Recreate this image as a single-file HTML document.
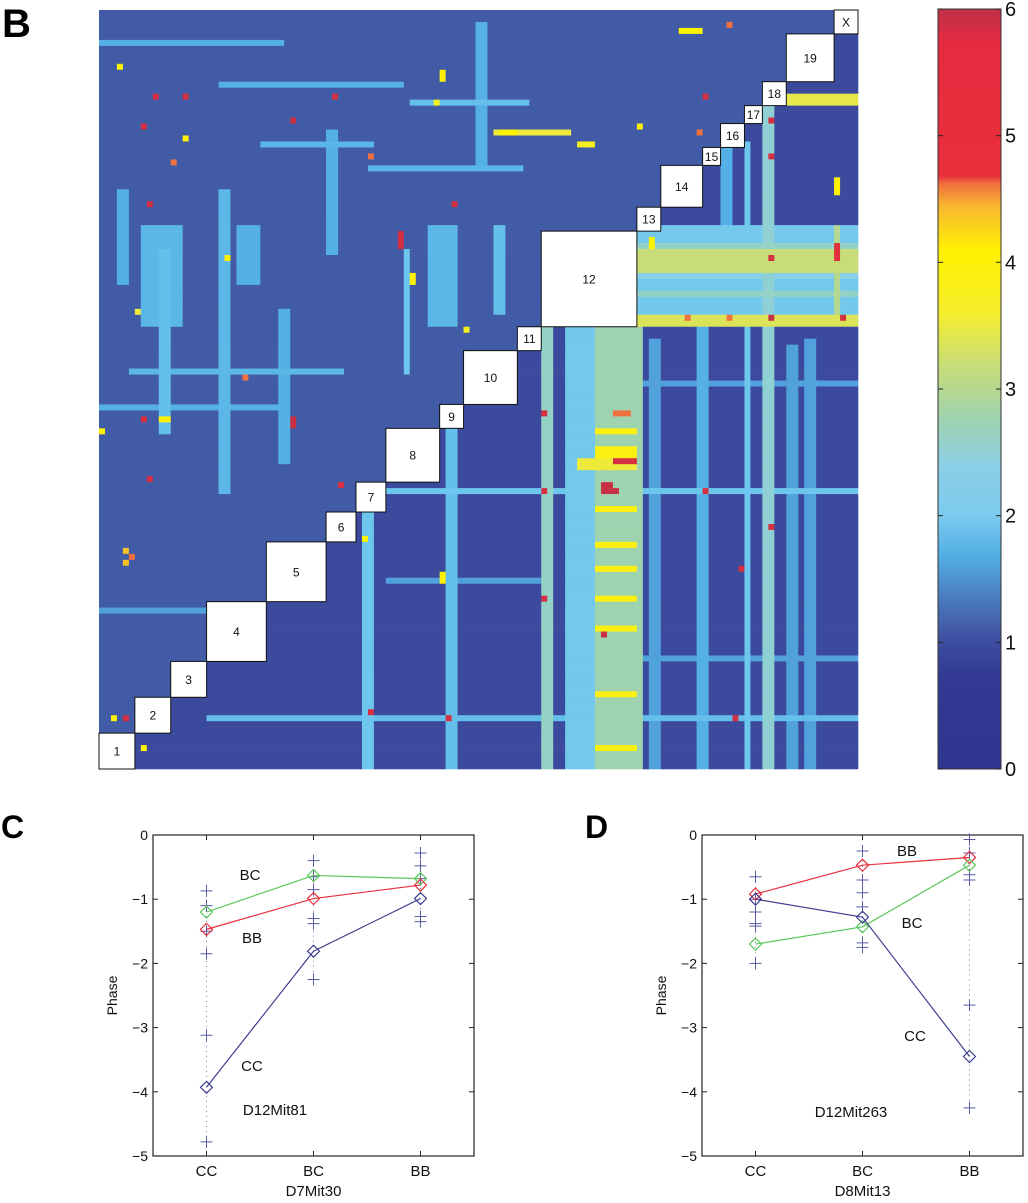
<!DOCTYPE html>
<html><head><meta charset="utf-8"><style>
html,body{margin:0;padding:0;background:#fff;}
svg{display:block;font-family:"Liberation Sans",sans-serif;}
</style></head><body>
<svg id="root" width="1028" height="1203" viewBox="0 0 1028 1203" xmlns="http://www.w3.org/2000/svg">
<defs>
<linearGradient id="cbgrad" x1="0" y1="1" x2="0" y2="0">
<stop offset="0" stop-color="#2e3590"/><stop offset="0.12" stop-color="#323a94"/>
<stop offset="0.1667" stop-color="#3c4c9e"/><stop offset="0.22" stop-color="#4a78bc"/>
<stop offset="0.28" stop-color="#52aee4"/><stop offset="0.3333" stop-color="#7ccbef"/>
<stop offset="0.40" stop-color="#8ccfe6"/><stop offset="0.46" stop-color="#9fd2b0"/>
<stop offset="0.53" stop-color="#c6dc78"/><stop offset="0.60" stop-color="#f6ee2e"/>
<stop offset="0.68" stop-color="#fff200"/><stop offset="0.74" stop-color="#f8b830"/>
<stop offset="0.77" stop-color="#f07040"/><stop offset="0.78" stop-color="#e8303c"/>
<stop offset="0.95" stop-color="#e82a40"/><stop offset="1" stop-color="#c03048"/>
</linearGradient>
</defs>
<text x="2" y="37" font-size="40" font-weight="bold">B</text>
<text x="1" y="838" font-size="32" font-weight="bold">C</text>
<text x="585" y="838" font-size="32" font-weight="bold">D</text>
<g id="heatmap"></g>
<g id="boxes"></g>
<g id="colorbar"></g>
<g id="chartC"></g>
<g id="chartD"></g>
</svg>
<script>
// ---------- heatmap data (cell indices: 127 x 127 grid) ----------
const nCells = 127;
const baseUpper = 1.08;
const baseLower = 0.92;
// column bands: [col0, col1, row0, row1, value]
const colBands = [
  [78,90,53,126,2.1],[83,90,53,126,2.75],[74,75,53,126,2.6],[108,108,22,126,2.0],
  [111,112,12,126,2.5],[44,45,84,126,2.0],[58,59,70,126,1.9],[51,51,40,60,2.0],
  [123,123,36,52,3.0],[20,21,30,80,1.8],[10,11,40,70,1.9],[100,101,36,126,1.7],
  [7,13,36,52,1.8],[55,59,36,52,1.8],[66,67,36,50,1.9],[23,26,36,45,1.7],
  [3,4,30,45,1.7],[30,31,50,75,1.7],[38,39,20,40,1.7],[63,64,2,25,1.7],
  [92,93,55,126,1.6],[118,119,55,126,1.6],[104,105,20,35,1.7],[115,116,56,126,1.6]
];
// row bands: [row0, row1, col0, col1, value]
const rowBands = [
  [36,52,90,126,2.1],[40,43,90,126,3.2],[39,39,90,126,2.6],[51,52,90,126,3.4],
  [80,80,48,126,2.0],[118,118,18,126,1.9],[14,15,113,126,3.5],[20,20,66,78,3.6],
  [70,70,83,89,3.9],[73,74,83,89,3.9],[83,83,83,89,3.9],[89,89,83,89,3.9],
  [93,93,83,89,3.9],[98,98,83,89,3.9],[103,103,83,89,3.9],[114,114,83,89,3.9],
  [123,123,83,89,3.9],[75,76,80,89,3.6],[26,26,45,70,1.8],[60,60,5,40,1.8],
  [44,44,90,126,2.4],[47,47,90,126,2.6],[15,15,52,71,1.9],[22,22,27,45,1.8],
  [5,5,0,30,1.7],[12,12,20,50,1.7],[66,66,0,30,1.7],[100,100,0,20,1.6],
  [95,95,48,74,1.6],[108,108,90,126,1.6],[62,62,90,126,1.6]
];
// hot spots: [row, col, value]
const hotSpots = [
  [14,9,5.5],[14,14,5.5],[19,7,5.5],[18,32,6],[14,39,5.5],[32,8,5.5],[32,59,5.5],
  [37,50,5.5],[38,50,5.5],[39,50,5.5],[9,3,4],[10,57,4],[11,57,4],[21,14,4],[20,67,4],
  [20,68,4],[20,69,4],[41,21,4],[44,52,4],[45,52,4],[25,12,4.6],[24,45,4.6],[61,24,4.6],
  [15,56,3.8],[50,6,3.6],[53,61,3.8],[68,7,5.5],[68,32,6],[69,32,6],[78,8,5.5],[79,40,5.5],
  [90,4,4.3],[91,5,4.6],[92,4,4.3],[117,45,5.5],[118,58,5.5],[118,4,5.5],[118,2,4],
  [70,0,4],[68,10,4],[68,11,4],[88,44,4],[94,57,4],[95,57,4],[123,7,4],
  [14,101,5.5],[18,112,5.5],[24,112,5.5],[41,112,5.5],[39,123,5],[40,123,5],[41,123,5],
  [51,112,6],[51,124,5.5],[51,98,4.6],[51,105,4.6],[3,97,4],[3,98,4],[3,99,4],[3,100,4],
  [38,92,4],[39,92,4],[28,123,4],[29,123,4],[30,123,4],[22,80,3.8],[22,81,3.8],[22,82,3.8],
  [2,105,4.6],[20,100,4.6],[19,90,4],[67,74,5.5],[67,86,4.6],[67,87,4.6],[67,88,4.6],
  [75,86,5.5],[75,87,5.5],[75,88,5.5],[75,89,5.5],[80,84,6],[80,85,6],[80,86,6],[79,84,6],[79,85,6],
  [80,74,5.5],[80,101,5.5],[86,112,5.5],[93,107,5.5],[98,74,5.5],[104,84,6],[118,106,5.5]
];
// chromosome boxes: [label, col0, col1] (square on diagonal)
const chromLabels = ["1","2","3","4","5","6","7","8","9","10","11","12","13","14","15","16","17","18","19","X"];
const chromStarts = [0,6,12,18,28,38,43,48,57,61,70,74,90,94,101,104,108,111,115,123];
const chromEnds   = [6,12,18,28,38,43,48,57,61,70,74,90,94,101,104,108,111,115,123,127];

const HX0=99, HY0=10, HW=759, HH=759;
function cx(c){return HX0 + c*HW/nCells;}
function cy(r){return HY0 + r*HH/nCells;}

const cmapV=[0,0.7,1.0,1.3,1.7,2.0,2.4,2.8,3.2,3.6,4.0,4.4,4.6,4.8,6];
const cmapC=["#2e3590","#323a94","#3e50a0","#4878bc","#54b0e6","#6cc6ee","#88cfe4","#a2d4a8","#c8dc78","#eeea3a","#fff200","#f6b030","#f07040","#e8303c","#c83044"];
function hex2rgb(h){return [parseInt(h.slice(1,3),16),parseInt(h.slice(3,5),16),parseInt(h.slice(5,7),16)];}
function cmap(v){
  if(v<=cmapV[0]) return cmapC[0];
  for(let i=1;i<cmapV.length;i++){
    if(v<=cmapV[i]){const t=(v-cmapV[i-1])/(cmapV[i]-cmapV[i-1]);const a=hex2rgb(cmapC[i-1]),b=hex2rgb(cmapC[i]);
      return "rgb("+a.map((x,k)=>Math.round(x+(b[k]-x)*t)).join(",")+")";}
  }
  return cmapC[cmapC.length-1];
}
const NS="http://www.w3.org/2000/svg";
function mk(tag,attrs,parent){const e=document.createElementNS(NS,tag);for(const k in attrs)e.setAttribute(k,attrs[k]);parent.appendChild(e);return e;}

(function drawHeatmap(){
  const g=document.getElementById('heatmap');
  const M=[];
  for(let r=0;r<nCells;r++){M.push([]);for(let c=0;c<nCells;c++)M[r].push(r+c<nCells-1?baseUpper:baseLower);}
  colBands.forEach(b=>{for(let c=b[0];c<=b[1];c++)for(let r=b[2];r<=b[3];r++)M[r][c]=Math.max(M[r][c],b[4]);});
  rowBands.forEach(b=>{for(let r=b[0];r<=b[1];r++)for(let c=b[2];c<=b[3];c++)M[r][c]=Math.max(M[r][c],b[4]);});
  hotSpots.forEach(h=>{M[h[0]][h[1]]=Math.max(M[h[0]][h[1]],h[2]);});
  for(let r=0;r<nCells;r++){
    let c=0;
    while(c<nCells){
      let e=c;while(e+1<nCells&&M[r][e+1]===M[r][c])e++;
      const rect=mk('rect',{x:cx(c).toFixed(2),y:cy(r).toFixed(2),width:(cx(e+1)-cx(c)+0.3).toFixed(2),height:(HH/nCells+0.3).toFixed(2),fill:cmap(M[r][c])},g);
      
      
      c=e+1;
    }
  }
  const bg=document.getElementById('boxes');
  chromLabels.forEach((lab,i)=>{
    const c0=chromStarts[i],c1=chromEnds[i];
    const x=cx(c0),w=cx(c1)-cx(c0),y=cy(nCells-c1),h=cy(nCells-c0)-y;
    const rr=mk('rect',{x:x,y:y,width:w,height:h,fill:"#fff",stroke:"#111","stroke-width":1},bg);
    
    
    const t=mk('text',{x:x+w/2,y:y+h/2+4.5,"text-anchor":"middle","font-size":12,fill:"#111"},bg);
    t.textContent=lab;
    
    
  });
})();

// ---------- colorbar ----------
const cbTicks=[0,1,2,3,4,5,6];
(function(){
  const g=document.getElementById('colorbar');
  const X0=938,X1=1001,Y0=9,Y1=769;
  const r=mk('rect',{x:X0,y:Y0,width:X1-X0,height:Y1-Y0,fill:"url(#cbgrad)",stroke:"#333","stroke-width":1},g);
  
  
  cbTicks.forEach(v=>{
    const y=Y1-(v/6)*(Y1-Y0);
    mk('line',{x1:X0,x2:X0+5,y1:y,y2:y,stroke:"#222"},g);
    mk('line',{x1:X1-5,x2:X1,y1:y,y2:y,stroke:"#222"},g);
    const t=mk('text',{x:X1+4,y:y+7,"font-size":20,fill:"#111"},g);
    t.textContent=String(v);
    
    
  });
})();

// ---------- line charts ----------
const categories=["CC","BC","BB"];
const yTicks=[0,-1,-2,-3,-4,-5];
// Chart C
const cGreen=[-1.2,-0.63,-0.68];
const cRed=[-1.47,-0.99,-0.78];
const cBlue=[-3.93,-1.81,-0.99];
const cPlusCC=[-0.87,-1.1,-1.5,-1.85,-3.12,-4.78];
const cPlusBC=[-0.4,-0.65,-0.85,-1.3,-1.38,-2.25];
const cPlusBB=[-0.28,-0.48,-0.68,-1.27,-1.35];
// Chart D
const dGreen=[-1.7,-1.43,-0.47];
const dRed=[-0.92,-0.47,-0.35];
const dBlue=[-1.0,-1.28,-3.45];
const dPlusCC=[-0.65,-1.0,-1.2,-1.38,-1.42,-2.0];
const dPlusBC=[-0.25,-0.7,-0.9,-1.12,-1.68,-1.75];
const dPlusBB=[-0.07,-0.28,-0.62,-0.7,-2.65,-4.25];

function drawChart(gid,X0,opts){
  const g=document.getElementById(gid);
  const W=321,Y0=835,H=321;
  const xs=i=>X0+W*(2*i+1)/6;
  const ys=v=>Y0+(-v/5)*H;
  const fr=mk('rect',{x:X0,y:Y0,width:W,height:H,fill:"none",stroke:"#222","stroke-width":1.2},g);
  
  
  yTicks.forEach(v=>{
    const y=ys(v);
    mk('line',{x1:X0,x2:X0+5,y1:y,y2:y,stroke:"#222"},g);
    mk('line',{x1:X0+W-5,x2:X0+W,y1:y,y2:y,stroke:"#222"},g);
    const t=mk('text',{x:X0-5,y:y+5,"text-anchor":"end","font-size":14,fill:"#111"},g);
    t.textContent=v===0?"0":"\u2212"+(-v);
    
    
  });
  categories.forEach((c,i)=>{
    const x=xs(i);
    mk('line',{x1:x,x2:x,y1:Y0+H,y2:Y0+H-5,stroke:"#222"},g);
    mk('line',{x1:x,x2:x,y1:Y0,y2:Y0+5,stroke:"#222"},g);
    const t=mk('text',{x:x,y:Y0+H+20,"text-anchor":"middle","font-size":15,fill:"#111"},g);
    t.textContent=c;
    
    
  });
  const yl=mk('text',{x:0,y:0,transform:"translate("+(X0-36)+","+(Y0+H/2)+") rotate(-90)","text-anchor":"middle","font-size":14,fill:"#111"},g);
  yl.textContent="Phase";
  
  
  const xl=mk('text',{x:X0+W/2,y:Y0+H+40,"text-anchor":"middle","font-size":15,fill:"#111"},g);
  xl.textContent=opts.xlabel;
  
  
  opts.pluses.forEach((arr,i)=>{
    const x=xs(i);
    const mn=Math.min(...arr),mx=Math.max(...arr);
    const dl=mk('line',{x1:x,x2:x,y1:ys(mx),y2:ys(mn),stroke:"#7a7aa8","stroke-dasharray":"1,4","stroke-width":1},g);
    
    
    arr.forEach(v=>{
      const y=ys(v);
      const p=mk('path',{d:"M"+(x-6)+","+y+"H"+(x+6)+"M"+x+","+(y-6)+"V"+(y+6),stroke:"#5a5aa8","stroke-width":1,fill:"none"},g);
      
      
    });
  });
  opts.series.forEach(s=>{
    const pts=s.vals.map((v,i)=>xs(i)+","+ys(v)).join(" ");
    const pl=mk('polyline',{points:pts,fill:"none",stroke:s.color,"stroke-width":1.2},g);
    
    
    s.vals.forEach((v,i)=>{
      const x=xs(i),y=ys(v);
      const d=mk('path',{d:"M"+x+","+(y-6)+"L"+(x+6)+","+y+"L"+x+","+(y+6)+"L"+(x-6)+","+y+"Z",fill:"none",stroke:s.color,"stroke-width":1.2},g);
      
      
    });
  });
  opts.labels.forEach(l=>{
    const t=mk('text',{x:l[1],y:l[2],"text-anchor":"middle","font-size":15,fill:"#111"},g);
    t.textContent=l[0];
    
    
  });
}
drawChart('chartC',153,{xlabel:"D7Mit30",
  pluses:[cPlusCC,cPlusBC,cPlusBB],
  series:[{name:"bc",color:"#5cc85c",vals:cGreen},{name:"bb",color:"#e8303c",vals:cRed},{name:"cc",color:"#404092",vals:cBlue}],
  labels:[["BC",250,880],["BB",252,943],["CC",252,1071],["D12Mit81",275,1115]]});
drawChart('chartD',702,{xlabel:"D8Mit13",
  pluses:[dPlusCC,dPlusBC,dPlusBB],
  series:[{name:"bb",color:"#e8303c",vals:dRed},{name:"bc",color:"#5cc85c",vals:dGreen},{name:"cc",color:"#404092",vals:dBlue}],
  labels:[["BB",907,856],["BC",912,928],["CC",915,1041],["D12Mit263",851,1117]]});
</script>
</body></html>
